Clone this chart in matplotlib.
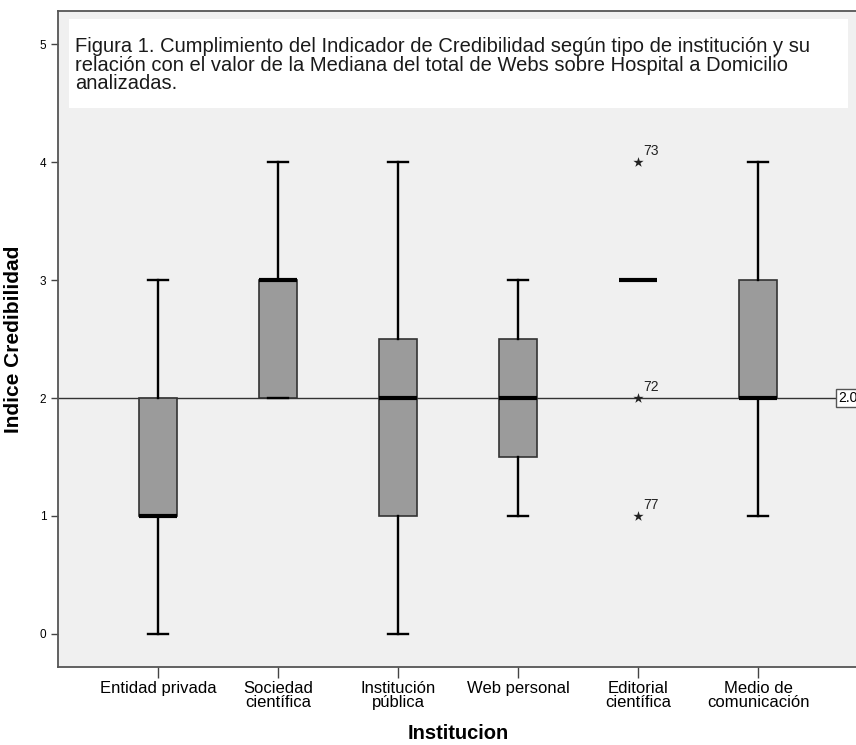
import matplotlib.pyplot as plt
from matplotlib.patches import Rectangle

plt.rcParams['font.family'] = ['Liberation Sans', 'DejaVu Sans']

# datos
categorias = ['Entidad privada', 'Sociedad\ncientífica', 'Institución\npública',
              'Web personal', 'Editorial\ncientífica', 'Medio de\ncomunicación']
minimo = [0, 2, 0, 1, 3, 1]
q1 = [1, 2, 1, 1.5, 3, 2]
mediana = [1, 3, 2, 2, 3, 2]
q3 = [2, 3, 2.5, 2.5, 3, 3]
maximo = [3, 4, 4, 3, 3, 4]
atipicos_cat = [4, 4, 4]
atipicos_val = [4, 2, 1]
atipicos_id = ['73', '72', '77']
mediana_total = 2.0
titulo = ('Figura 1. Cumplimiento del Indicador de Credibilidad según tipo de institución y su\n'
          'relación con el valor de la Mediana del total de Webs sobre Hospital a Domicilio\n'
          'analizadas.')

fig = plt.figure(figsize=(8.56, 7.45), dpi=100)
ax = fig.add_axes([0.0678, 0.1047, 0.9346, 0.8805])
ax.set_facecolor('#f0f0f0')

stats = []
for i in range(len(categorias)):
    stats.append(dict(whislo=minimo[i], q1=q1[i], med=mediana[i], q3=q3[i],
                      whishi=maximo[i], fliers=[]))

ax.axhline(mediana_total, color='#333333', lw=1, zorder=1)

ax.bxp(stats, positions=range(len(categorias)), widths=0.32, patch_artist=True,
       showfliers=False,
       boxprops=dict(facecolor='#9b9b9b', edgecolor='#333333', lw=1.2),
       medianprops=dict(color='black', lw=3, solid_capstyle='butt'),
       whiskerprops=dict(color='black', lw=1.7),
       capprops=dict(color='black', lw=1.7),
       capwidths=0.17, zorder=3)

ax.scatter(atipicos_cat, atipicos_val, marker='*', s=60, color='#222222',
           linewidths=0, zorder=4)
for xc, yv, lab in zip(atipicos_cat, atipicos_val, atipicos_id):
    ax.annotate(lab, (xc, yv), xytext=(4, 5), textcoords='offset points',
                fontsize=10, color='#222222')

ax.text(5.667, mediana_total, '%.1f' % mediana_total, fontsize=10, va='center',
        ha='left', clip_on=False,
        bbox=dict(facecolor='white', edgecolor='#555555', pad=1.2, lw=1))

ax.add_patch(Rectangle((-0.742, 4.458), 6.492, 0.752, facecolor='white',
                       edgecolor='none', zorder=2))
ax.text(-0.69, 5.06, titulo, fontsize=14.5, va='top', ha='left',
        linespacing=0.98, color='#1a1a1a', zorder=5)

ax.set_xlim(-0.833, 5.833)
ax.set_ylim(-0.28, 5.28)
ax.set_yticks([0, 1, 2, 3, 4, 5])
ax.set_yticklabels(['0', '1', '2', '3', '4', '5'], fontsize=8.5)
ax.set_xticks(range(len(categorias)))
ax.set_xticklabels(categorias, fontsize=12, linespacing=0.92)
ax.tick_params(axis='y', length=5, width=1, color='#444444')
ax.tick_params(axis='x', length=8, width=1, color='#444444', pad=2)
for s in ax.spines.values():
    s.set_color('#555555')
    s.set_linewidth(1.3)

ax.set_xlabel('Institucion', fontsize=14.5, fontweight='bold', labelpad=10)
ax.set_ylabel('Indice Credibilidad', fontsize=15, fontweight='bold', labelpad=12)

fig.savefig('out.png', dpi=100)
